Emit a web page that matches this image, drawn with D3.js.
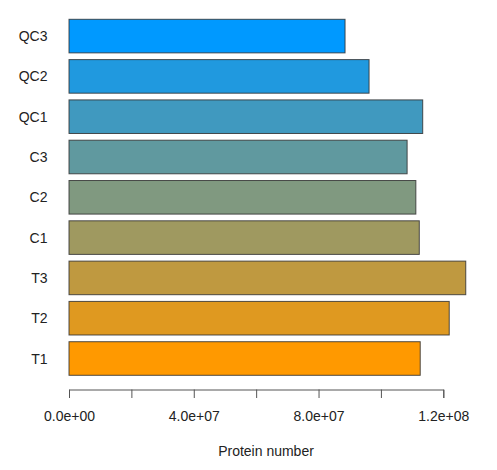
<!DOCTYPE html>
<html>
<head>
<meta charset="utf-8">
<script src="https://cdn.jsdelivr.net/npm/d3@7"></script>
<style>
  body { margin: 0; background: #fff; }
  text { font-family: "Liberation Sans", Arial, sans-serif; fill: #222; }
</style>
</head>
<body>
<div id="chart"></div>
<script>
// samples, listed from bottom to top as in the plot
var samples = ["T1", "T2", "T3", "C1", "C2", "C3", "QC1", "QC2", "QC3"];
var proteinNumber = [1.126e8, 1.219e8, 1.272e8, 1.123e8, 1.112e8, 1.084e8, 1.134e8, 9.62e7, 8.85e7];

// axis ticks
var tickValues = [0, 2e7, 4e7, 6e7, 8e7, 1e8, 1.2e8];
var labelValues = [0, 4e7, 8e7, 1.2e8];

var width = 497, height = 470;

var svg = d3.select("#chart").append("svg")
    .attr("width", width)
    .attr("height", height);

// scales
var x = d3.scaleLinear()
    .domain([0, 1.2e8])
    .range([69, 443.3]);

var y = d3.scaleBand()
    .domain(samples.slice().reverse())
    .range([19.3, 375.3])
    .paddingInner(0.2 / 1.2)
    .paddingOuter(0);

// colour ramp from orange (T1) to blue (QC3)
var ramp = d3.interpolateRgb("#ff9900", "#0099ff");
var color = function(i) { return ramp(i / (samples.length - 1)); };

// bars
svg.selectAll("rect.bar")
    .data(samples)
    .enter().append("rect")
    .attr("class", "bar")
    .attr("x", x(0))
    .attr("y", function(d) { return y(d); })
    .attr("width", function(d, i) { return x(proteinNumber[i]) - x(0); })
    .attr("height", y.bandwidth())
    .attr("fill", function(d, i) { return color(i); })
    .attr("stroke", "#333")
    .attr("stroke-opacity", 0.85)
    .attr("stroke-width", 1);

// category labels
svg.selectAll("text.cat")
    .data(samples)
    .enter().append("text")
    .attr("class", "cat")
    .attr("x", 47.5)
    .attr("y", function(d) { return y(d) + y.bandwidth() / 2; })
    .attr("dy", "0.36em")
    .attr("text-anchor", "end")
    .style("font-size", "14px")
    .text(function(d) { return d; });

// R-like scientific format: 4.0e+07
function sci(v) {
    var s = v.toExponential(1);
    var parts = s.split("e");
    var exp = parseInt(parts[1], 10);
    var sign = exp < 0 ? "-" : "+";
    var e = Math.abs(exp);
    return parts[0] + "e" + sign + (e < 10 ? "0" + e : e);
}

// x axis
var xAxis = d3.axisBottom(x)
    .tickValues(tickValues)
    .tickSizeOuter(0)
    .tickSize(8.5)
    .tickFormat(function(d) { return labelValues.indexOf(d) >= 0 ? sci(d) : ""; });

var gx = svg.append("g")
    .attr("transform", "translate(0,389.5)")
    .call(xAxis);

gx.select(".domain").attr("stroke", "#555");
gx.selectAll(".tick line").attr("stroke", "#555");
gx.selectAll(".tick text")
    .attr("y", 26)
    .attr("dy", "0.36em")
    .style("font-size", "14px")
    .style("font-family", "\"Liberation Sans\", Arial, sans-serif")
    .attr("fill", "#222");

// axis title
svg.append("text")
    .attr("x", 266)
    .attr("y", 456)
    .attr("text-anchor", "middle")
    .style("font-size", "14px")
    .text("Protein number");
</script>
</body>
</html>
